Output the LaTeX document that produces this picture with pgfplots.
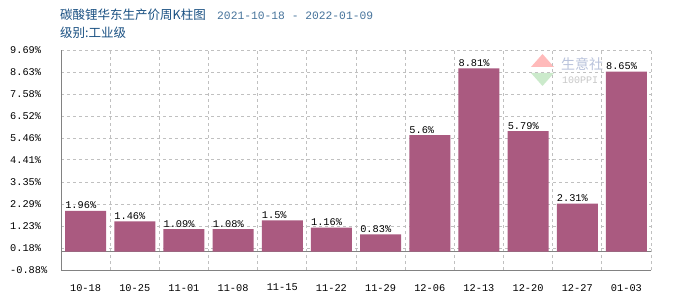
\documentclass[border=0pt]{standalone}
\usepackage{pgfplots}
\pgfplotsset{compat=1.18}
\usepackage{fontspec}
\setmainfont{Liberation Sans}
\setmonofont{Liberation Mono}
\newfontfamily\cjk{Noto Sans CJK SC}
\definecolor{barc}{RGB}{170,90,128}
\definecolor{titc}{RGB}{25,80,130}
\definecolor{datec}{RGB}{70,115,155}
\definecolor{gridc}{RGB}{192,192,192}
\definecolor{axc}{RGB}{130,130,130}
\begin{document}
\begin{tikzpicture}[x=1pt,y=1pt]
\useasboundingbox (0,0) rectangle (700,300);
\fill[white] (0,0) rectangle (700,300);
\node[anchor=base west,inner sep=0pt,text=titc,font=\cjk\fontsize{12.5}{14}\selectfont] at (60,280) {碳酸锂华东生产价周K柱图};
\node[anchor=base west,inner sep=0pt,text=datec,font=\ttfamily\fontsize{11.3}{13}\selectfont] at (217,280) {2021-10-18 - 2022-01-09};
\node[anchor=base west,inner sep=0pt,text=titc,font=\cjk\fontsize{12.5}{14}\selectfont] at (60,262) {级别:工业级};
% watermark
\fill[red!60!white,opacity=0.45] (531,233) -- (554,233) -- (542.5,246) -- cycle;
\fill[green!60!black!40!white,opacity=0.5] (531,227) -- (554,227) -- (542.5,214) -- cycle;
\node[anchor=base west,inner sep=0pt,text={rgb,255:red,185;green,195;blue,220},font=\cjk\fontsize{14}{16}\selectfont] at (561,230) {生意社};
\node[anchor=base west,inner sep=0pt,text={rgb,255:red,200;green,200;blue,200},font=\ttfamily\fontsize{10}{11}\selectfont] at (562,216) {100PPI.};
\begin{axis}[
  at={(61pt,30pt)}, anchor=south west,
  scale only axis, width=590pt, height=220pt,
  xmin=-0.5, xmax=11.5, ymin=-0.88, ymax=9.69,
  axis x line=bottom, axis y line=left,
  axis line style={-,axc,line width=1pt},
  xtick={0,...,11},
  xticklabels={10-18,10-25,11-01,11-08,11-15,11-22,11-29,12-06,12-13,12-20,12-27,01-03},
  minor xtick={-0.5,0.5,...,11.5},
  ytick={-0.88,0.18,1.23,2.29,3.35,4.41,5.46,6.52,7.58,8.63,9.69},
  yticklabels={-0.88\%,0.18\%,1.23\%,2.29\%,3.35\%,4.41\%,5.46\%,6.52\%,7.58\%,8.63\%,9.69\%},
  major tick length=0pt, minor tick length=0pt,
  xmajorgrids=false, xminorgrids=true, ymajorgrids=true,
  major grid style={gridc,dashed,line width=0.8pt},
  minor grid style={gridc,dashed,line width=0.8pt},
  tick label style={font=\ttfamily\fontsize{10.3}{11}\selectfont,text=black},
  yticklabel style={anchor=west,inner sep=0pt,xshift=-51pt},
  xticklabel style={anchor=north,inner sep=0pt,yshift=-14pt},
  clip=false,
]
\addplot[axc,line width=1pt,forget plot] coordinates {(-0.5,0) (11.5,0)};
\addplot[ybar,bar width=41pt,fill=barc,draw=none,
  point meta=explicit symbolic,
  nodes near coords,
  nodes near coords style={font=\ttfamily\fontsize{10.3}{11}\selectfont,text=black,anchor=base west,inner sep=0pt,xshift=-20.5pt,yshift=2pt}]
coordinates {
(0,1.96) [1.96\%]
(1,1.46) [1.46\%]
(2,1.09) [1.09\%]
(3,1.08) [1.08\%]
(4,1.5) [1.5\%]
(5,1.16) [1.16\%]
(6,0.83) [0.83\%]
(7,5.6) [5.6\%]
(8,8.81) [8.81\%]
(9,5.79) [5.79\%]
(10,2.31) [2.31\%]
(11,8.65) [8.65\%]
};
\end{axis}
\end{tikzpicture}
\end{document}
